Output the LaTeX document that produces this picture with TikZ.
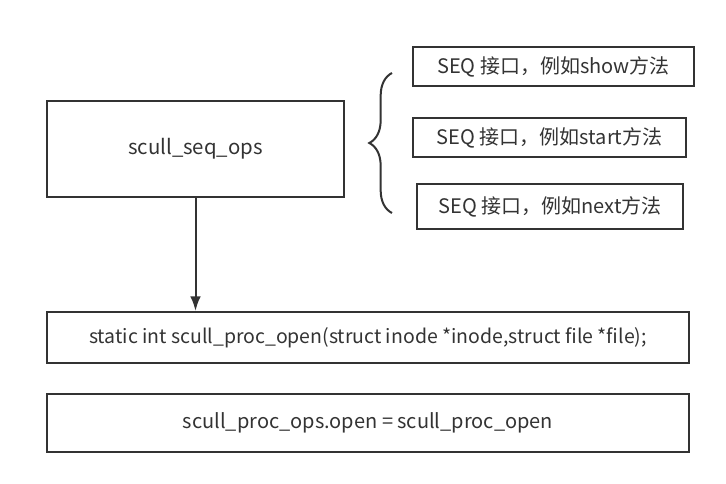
\documentclass[tikz,border=0pt]{standalone}
\usepackage{fontspec}
\setmainfont{Noto Sans CJK SC}
\usepackage{tikz}
\usetikzlibrary{arrows.meta,calc,positioning,decorations.pathreplacing}
\tikzset{>={Latex[length=11pt,width=8pt]}}
\definecolor{inkgray}{HTML}{333333}
\tikzset{
  opsbox/.style={draw=inkgray, line width=1.5pt, rectangle, inner sep=0pt, text=inkgray, font=\fontsize{15pt}{18pt}\selectfont},
}

\begin{document}
\begin{tikzpicture}[x=0.75pt, y=-0.75pt]
                \useasboundingbox (0,0) rectangle (726,484);

                \node[opsbox, minimum width=222.75pt, minimum height=72pt, font=\fontsize{15.3pt}{18pt}\selectfont] (seqops) at (195.5,149) {scull\_seq\_ops};

                \node[opsbox, minimum width=210.75pt, minimum height=29.25pt] (show) at (553.5,66.5) {SEQ 接口，例如show方法};
                \node[opsbox, minimum width=204.75pt, minimum height=29.25pt] (start) at (549.5,137.5) {SEQ 接口，例如start方法};
                \node[opsbox, minimum width=199.5pt, minimum height=33.75pt] (next) at (550,206.5) {SEQ 接口，例如next方法};

                \draw[inkgray, line width=1.5pt, decorate, decoration={brace, amplitude=17pt}] (392,213) -- (392,73);

                \node[opsbox, minimum width=481.5pt, minimum height=38.25pt, font=\fontsize{14.6pt}{18pt}\selectfont] (procopen) at (368,337.5) {static int scull\_proc\_open(struct inode *inode,struct file *file);};
                \node[opsbox, minimum width=481.5pt, minimum height=43.5pt] (assign) at (368,423) {scull\_proc\_ops.open = scull\_proc\_open};

                \draw[->, inkgray, line width=1.5pt] (seqops) -- (seqops |- procopen.north);
            \end{tikzpicture}
\end{document}
